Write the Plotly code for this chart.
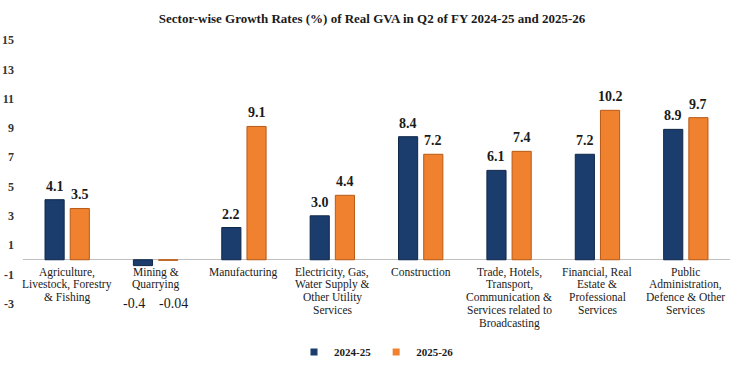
import plotly.graph_objects as go

categories = [
    "Agriculture,<br>Livestock, Forestry<br>& Fishing",
    "Mining &<br>Quarrying",
    "Manufacturing",
    "Electricity, Gas,<br>Water Supply &<br>Other Utility<br>Services",
    "Construction",
    "Trade, Hotels,<br>Transport,<br>Communication &<br>Services related to<br>Broadcasting",
    "Financial, Real<br>Estate &<br>Professional<br>Services",
    "Public<br>Administration,<br>Defence & Other<br>Services",
]
values_2024_25 = [4.1, -0.4, 2.2, 3.0, 8.4, 6.1, 7.2, 8.9]
values_2025_26 = [3.5, -0.04, 9.1, 4.4, 7.2, 7.4, 10.2, 9.7]
labels_2024_25 = ["4.1", "-0.4", "2.2", "3.0", "8.4", "6.1", "7.2", "8.9"]
labels_2025_26 = ["3.5", "-0.04", "9.1", "4.4", "7.2", "7.4", "10.2", "9.7"]
series_names = ["2024-25", "2025-26"]
y_ticks = [-3, -1, 1, 3, 5, 7, 9, 11, 13, 15]

BLUE = "#1B3D6E"
ORANGE = "#F0812E"
SERIF = "Liberation Serif, DejaVu Serif, serif"
TXT = "#1a1a1a"

x_idx = list(range(len(categories)))

fig = go.Figure()
for name, vals, col, line in [
    (series_names[0], values_2024_25, BLUE, "#0f2748"),
    (series_names[1], values_2025_26, ORANGE, "#b85a16"),
]:
    fig.add_trace(go.Bar(
        x=x_idx, y=vals, name=name, showlegend=False,
        marker=dict(color=col, line=dict(color=line, width=1)),
        hoverinfo="skip",
    ))
    fig.add_trace(go.Scatter(
        x=[None], y=[None], mode="markers", name=name,
        marker=dict(symbol="square", size=7, color=col),
    ))

LINE_STEP = 12.7
annotations = []
for i, c in enumerate(categories):
    for k, part in enumerate(c.split("<br>")):
        annotations.append(dict(
            x=i, y=0, xref="x", yref="y", text=part, showarrow=False,
            yanchor="top", yshift=-4 - k * LINE_STEP, align="center",
            font=dict(family=SERIF, size=11.5, color=TXT),
        ))
for vals, labs, xs, neg_xs in [(values_2024_25, labels_2024_25, -12.6, -22),
                               (values_2025_26, labels_2025_26, 12.6, 17.5)]:
    for i, (v, t) in enumerate(zip(vals, labs)):
        if v >= 0:
            annotations.append(dict(
                x=i, y=v, xref="x", yref="y", text=t, showarrow=False,
                yanchor="bottom", yshift=4, xshift=xs,
                font=dict(family=SERIF, size=14, color=TXT, weight="bold"),
            ))
        else:
            annotations.append(dict(
                x=i, y=-3.0, xref="x", yref="y", text=t, showarrow=False,
                yanchor="middle", xshift=neg_xs,
                font=dict(family=SERIF, size=14, color=TXT),
            ))

fig.update_layout(
    width=744, height=370,
    margin=dict(l=23, r=14, t=40, b=37, autoexpand=False),
    paper_bgcolor="white", plot_bgcolor="white",
    barmode="group", bargap=0.43, bargroupgap=0.24,
    title=dict(
        text="Sector-wise Growth Rates (%) of Real GVA in Q2 of FY 2024-25 and 2025-26",
        x=0.5, xanchor="center", y=1 - 18 / 370, yanchor="middle",
        font=dict(family=SERIF, size=13, color=TXT, weight="bold"),
    ),
    xaxis=dict(range=[-0.5, len(categories) - 0.5], showticklabels=False,
               showgrid=False, zeroline=False, showline=False, fixedrange=True),
    yaxis=dict(range=[-5, 15], tickvals=y_ticks, ticktext=[str(t) for t in y_ticks],
               showgrid=False, zeroline=True, zerolinecolor="#BFBFBF", zerolinewidth=1,
               showline=False, ticks="", ticklabelstandoff=8, automargin=False,
               tickfont=dict(family=SERIF, size=12, color="#333333", weight="bold")),
    legend=dict(orientation="h", x=0.5, xanchor="center", y=-0.065, yanchor="middle",
                font=dict(family=SERIF, size=11, color=TXT, weight="bold"),
                itemwidth=30, tracegroupgap=0),
    annotations=annotations,
    showlegend=True,
)

fig.write_html("out.html", config={"displayModeBar": False},
               post_script="document.body.style.margin='0px';")
